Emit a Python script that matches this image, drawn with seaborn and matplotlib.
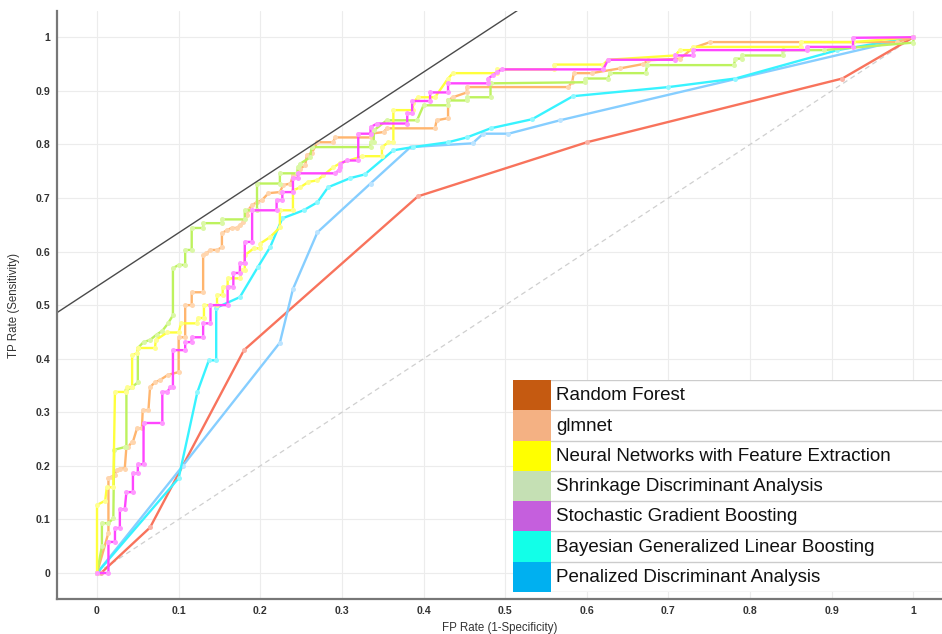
import matplotlib
matplotlib.use("Agg")
import matplotlib.pyplot as plt
import matplotlib.colors as mcolors
from matplotlib.patches import Rectangle
import seaborn as sns

# ROC curves (FPR, TPR)
rf_fpr = [0, 0.005, 0.065, 0.18, 0.393, 0.6, 0.913, 1.0]
rf_tpr = [0, 0, 0.085, 0.416, 0.703, 0.804, 0.923, 1.0]

glm_fpr = [0, 0.014, 0.014, 0.018, 0.022, 0.024, 0.028, 0.034, 0.036, 0.038, 0.043, 0.044,
           0.049, 0.055, 0.056, 0.063, 0.065, 0.071, 0.077, 0.087, 0.1, 0.1, 0.108, 0.108,
           0.116, 0.116, 0.13, 0.13, 0.134, 0.139, 0.147, 0.153, 0.153, 0.159, 0.165, 0.171,
           0.175, 0.179, 0.184, 0.185, 0.19, 0.196, 0.202, 0.21, 0.224, 0.228, 0.237, 0.24,
           0.246, 0.249, 0.255, 0.257, 0.263, 0.27, 0.289, 0.292, 0.335, 0.335, 0.351, 0.355,
           0.414, 0.416, 0.43, 0.43, 0.436, 0.453, 0.453, 0.577, 0.582, 0.584, 0.606, 0.641,
           0.669, 0.675, 0.714, 0.73, 0.751, 0.98, 1.0]
glm_tpr = [0, 0.075, 0.177, 0.18, 0.183, 0.192, 0.195, 0.195, 0.235, 0.235, 0.245, 0.245,
           0.27, 0.27, 0.304, 0.304, 0.347, 0.356, 0.36, 0.37, 0.375, 0.44, 0.44, 0.5,
           0.5, 0.524, 0.524, 0.593, 0.597, 0.603, 0.603, 0.608, 0.634, 0.64, 0.644, 0.644,
           0.649, 0.655, 0.668, 0.677, 0.687, 0.692, 0.696, 0.709, 0.711, 0.724, 0.727, 0.742,
           0.746, 0.755, 0.761, 0.78, 0.784, 0.804, 0.804, 0.813, 0.813, 0.82, 0.823, 0.83,
           0.83, 0.845, 0.849, 0.882, 0.888, 0.897, 0.907, 0.907, 0.916, 0.933, 0.933, 0.942,
           0.95, 0.957, 0.96, 0.98, 0.991, 0.991, 1.0]

nn_fpr = [0, 0, 0.01, 0.012, 0.02, 0.022, 0.036, 0.037, 0.043, 0.043, 0.049, 0.05, 0.071,
          0.072, 0.086, 0.1, 0.103, 0.122, 0.124, 0.131, 0.131, 0.147, 0.147, 0.154, 0.154,
          0.16, 0.16, 0.175, 0.178, 0.181, 0.181, 0.192, 0.2, 0.2, 0.212, 0.224, 0.224, 0.24,
          0.24, 0.249, 0.259, 0.27, 0.277, 0.289, 0.298, 0.325, 0.349, 0.349, 0.357, 0.363,
          0.363, 0.387, 0.387, 0.393, 0.414, 0.43, 0.436, 0.49, 0.49, 0.56, 0.56, 0.62, 0.626,
          0.708, 0.714, 0.73, 0.73, 0.862, 0.862, 0.926, 1.0]
nn_tpr = [0, 0.127, 0.135, 0.16, 0.16, 0.338, 0.338, 0.347, 0.347, 0.407, 0.41, 0.42, 0.42,
          0.435, 0.449, 0.449, 0.466, 0.466, 0.476, 0.476, 0.5, 0.5, 0.519, 0.519, 0.534,
          0.534, 0.55, 0.55, 0.565, 0.565, 0.593, 0.606, 0.606, 0.615, 0.627, 0.645, 0.677, 0.677,
          0.714, 0.72, 0.73, 0.733, 0.742, 0.757, 0.765, 0.778, 0.778, 0.795, 0.804, 0.804,
          0.864, 0.864, 0.877, 0.888, 0.888, 0.923, 0.933, 0.933, 0.94, 0.94, 0.949, 0.949, 0.958,
          0.966, 0.976, 0.976, 0.982, 0.982, 0.991, 0.991, 1.0]

sda_fpr = [0, 0.006, 0.006, 0.014, 0.02, 0.021, 0.034, 0.036, 0.036, 0.043, 0.05, 0.05,
           0.057, 0.065, 0.073, 0.08, 0.087, 0.093, 0.093, 0.1, 0.108, 0.108, 0.116, 0.116,
           0.13, 0.13, 0.153, 0.153, 0.181, 0.181, 0.196, 0.196, 0.224, 0.224, 0.245, 0.246,
           0.249, 0.261, 0.263, 0.335, 0.335, 0.339, 0.339, 0.355, 0.392, 0.4, 0.43, 0.43,
           0.453, 0.453, 0.482, 0.482, 0.598, 0.598, 0.626, 0.628, 0.672, 0.674, 0.78, 0.782,
           0.79, 0.79, 0.84, 0.84, 0.89, 1.0, 1.0]
sda_tpr = [0, 0.05, 0.093, 0.093, 0.102, 0.23, 0.235, 0.235, 0.341, 0.347, 0.356, 0.42,
           0.431, 0.435, 0.445, 0.452, 0.466, 0.481, 0.569, 0.575, 0.575, 0.603, 0.603, 0.644,
           0.644, 0.653, 0.653, 0.66, 0.66, 0.677, 0.677, 0.727, 0.727, 0.746, 0.746, 0.757,
           0.764, 0.776, 0.795, 0.795, 0.804, 0.804, 0.826, 0.845, 0.845, 0.873, 0.873, 0.882,
           0.882, 0.888, 0.888, 0.914, 0.916, 0.923, 0.923, 0.933, 0.933, 0.948, 0.948, 0.96,
           0.96, 0.966, 0.966, 0.976, 0.976, 0.99, 1.0]

sgb_fpr = [0, 0.014, 0.014, 0.022, 0.022, 0.028, 0.028, 0.034, 0.036, 0.044, 0.044, 0.05,
           0.05, 0.057, 0.057, 0.08, 0.08, 0.086, 0.09, 0.093, 0.093, 0.108, 0.108, 0.116,
           0.116, 0.13, 0.13, 0.139, 0.139, 0.16, 0.16, 0.167, 0.167, 0.175, 0.175, 0.181,
           0.181, 0.19, 0.19, 0.22, 0.22, 0.227, 0.227, 0.24, 0.24, 0.246, 0.246, 0.292, 0.296,
           0.298, 0.298, 0.306, 0.32, 0.32, 0.335, 0.335, 0.343, 0.38, 0.38, 0.386, 0.386,
           0.408, 0.408, 0.43, 0.43, 0.479, 0.479, 0.485, 0.49, 0.496, 0.62, 0.626, 0.708,
           0.708, 0.73, 0.73, 0.87, 0.87, 0.926, 0.926, 1.0]
sgb_tpr = [0, 0, 0.058, 0.058, 0.084, 0.084, 0.119, 0.119, 0.151, 0.151, 0.186, 0.186,
           0.203, 0.203, 0.28, 0.28, 0.338, 0.338, 0.347, 0.347, 0.416, 0.416, 0.431, 0.431,
           0.44, 0.44, 0.466, 0.466, 0.5, 0.5, 0.534, 0.534, 0.56, 0.56, 0.578, 0.578,
           0.618, 0.618, 0.677, 0.677, 0.696, 0.696, 0.711, 0.711, 0.737, 0.737, 0.746, 0.746,
           0.752, 0.757, 0.764, 0.77, 0.77, 0.82, 0.82, 0.832, 0.839, 0.839, 0.858, 0.858,
           0.881, 0.881, 0.897, 0.897, 0.914, 0.914, 0.923, 0.929, 0.935, 0.94, 0.94, 0.958,
           0.958, 0.966, 0.966, 0.976, 0.976, 0.982, 0.982, 0.999, 1.0]

bglm_fpr = [0, 0.1, 0.123, 0.137, 0.146, 0.146, 0.175, 0.197, 0.212, 0.227, 0.253, 0.27,
            0.283, 0.31, 0.328, 0.363, 0.387, 0.43, 0.453, 0.482, 0.533, 0.583, 0.7, 0.782,
            0.907, 1.0]
bglm_tpr = [0, 0.177, 0.338, 0.397, 0.397, 0.495, 0.515, 0.571, 0.608, 0.662, 0.677, 0.692,
            0.72, 0.737, 0.744, 0.789, 0.795, 0.804, 0.813, 0.83, 0.847, 0.89, 0.907, 0.923,
            0.976, 1.0]

pda_fpr = [0, 0.105, 0.224, 0.24, 0.27, 0.335, 0.384, 0.46, 0.473, 0.504, 0.567, 1.0]
pda_tpr = [0, 0.2, 0.43, 0.53, 0.636, 0.727, 0.795, 0.802, 0.82, 0.82, 0.845, 1.0]

chance_x = [0, 1]
chance_y = [0, 1]
upper_x = [-0.05, 0.6]
upper_y = [0.485, 1.135]

model_names = ["Random Forest", "glmnet", "Neural Networks with Feature Extraction",
               "Shrinkage Discriminant Analysis", "Stochastic Gradient Boosting",
               "Bayesian Generalized Linear Boosting", "Penalized Discriminant Analysis"]
line_colors = ["#F8735C", "#FFB56E", "#FFFF3C", "#BDF25E", "#FF45FF", "#38F3FF", "#86CEFF"]
legend_colors = ["#C55A11", "#F4B183", "#FFFF00", "#C5E0B4", "#C55FDD", "#12FFE8", "#00B0F0"]
curves = [(rf_fpr, rf_tpr), (glm_fpr, glm_tpr), (nn_fpr, nn_tpr), (sda_fpr, sda_tpr),
          (sgb_fpr, sgb_tpr), (bglm_fpr, bglm_tpr), (pda_fpr, pda_tpr)]
ticks = [0, 0.1, 0.2, 0.3, 0.4, 0.5, 0.6, 0.7, 0.8, 0.9, 1.0]
tick_labels = ["0", "0.1", "0.2", "0.3", "0.4", "0.5", "0.6", "0.7", "0.8", "0.9", "1"]

sns.set_style("white")
plt.rcParams['font.family'] = ['Liberation Sans', 'DejaVu Sans']

fig = plt.figure(figsize=(9.42, 6.34), dpi=100)
ax = fig.add_axes([57 / 942, 35 / 634, 885 / 942, 588 / 634])

sns.lineplot(x=chance_x, y=chance_y, ax=ax, color="#cfcfcf", lw=0.9,
             linestyle=(0, (4, 3)), estimator=None, sort=False)

draw_order = [0, 6, 5, 1, 3, 2, 4]
for i in draw_order:
    fx, ty = curves[i]
    c = line_colors[i]
    light = tuple(0.55 * a + 0.45 for a in mcolors.to_rgb(c))
    sns.lineplot(x=fx, y=ty, ax=ax, color=c, lw=1.7, estimator=None, sort=False,
                 marker="o", markersize=3.6, markerfacecolor=light, markeredgewidth=0)

sns.lineplot(x=upper_x, y=upper_y, ax=ax, color="#4a4a4a", lw=1.0, estimator=None, sort=False)

ax.set_xlim(-0.049, 1.035)
ax.set_ylim(-0.0485, 1.049)
ax.set_xticks(ticks)
ax.set_xticklabels(tick_labels)
ax.set_yticks(ticks)
ax.set_yticklabels(tick_labels)
ax.tick_params(length=0, labelsize=7.6, labelcolor="#333333", pad=5)
for lab in ax.get_xticklabels() + ax.get_yticklabels():
    lab.set_fontweight("bold")
ax.grid(True, color="#ececec", lw=0.8)
ax.set_axisbelow(True)
for s in ["top", "right"]:
    ax.spines[s].set_visible(False)
for s in ["left", "bottom"]:
    ax.spines[s].set_color("#777777")
    ax.spines[s].set_linewidth(1.6)
ax.set_xlabel("FP Rate (1-Specificity)", fontsize=8.3, color="#333333", labelpad=4)
ax.set_ylabel("TP Rate (Sensitivity)", fontsize=8.3, color="#333333", labelpad=11)

# legend box in the lower right, drawn as its own axes
lax = fig.add_axes([513 / 942, 42 / 634, 429 / 942, 212 / 634])
lax.set_xlim(0, 1)
lax.set_ylim(0, len(model_names))
lax.axis("off")
patch_w = 38 / 429
for k, (name, col) in enumerate(zip(model_names, legend_colors)):
    y0 = len(model_names) - k - 1
    lax.add_patch(Rectangle((0, y0), patch_w, 1, color=col, lw=0))
    lax.text(patch_w + 0.012, y0 + 0.48, name, fontsize=13.5, va="center", ha="left",
             color="#111111")
for k in range(len(model_names) + 1):
    lax.plot([patch_w, 1], [k, k], color="#cccccc", lw=1.0)
lax.add_patch(Rectangle((0, 0), 1, len(model_names), facecolor="white", edgecolor="none",
                        zorder=-1))

fig.savefig("out.png", dpi=100)
